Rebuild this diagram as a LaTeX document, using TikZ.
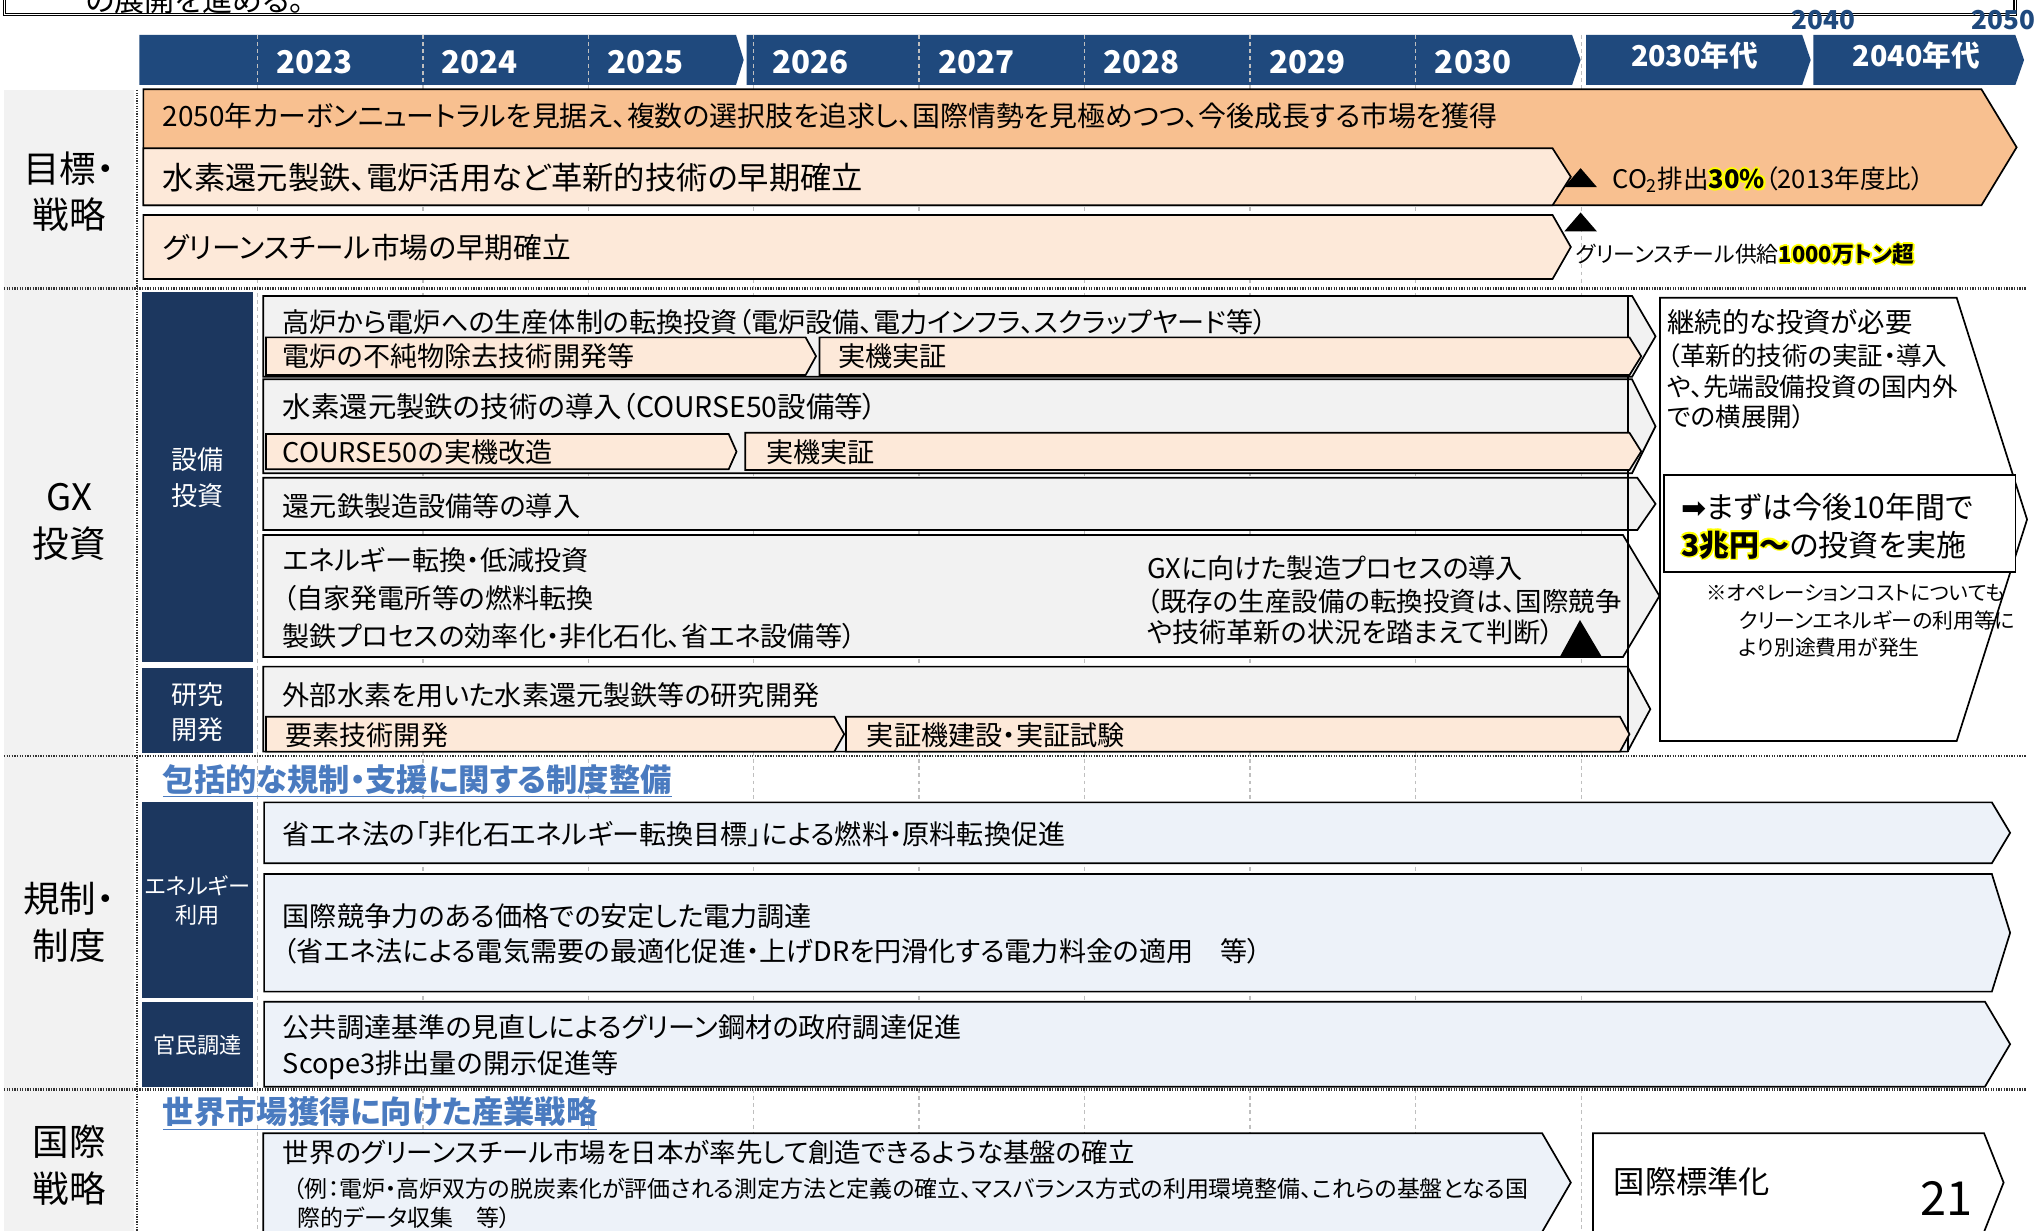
\documentclass[tikz,border=0pt]{standalone}
\usepackage{fontspec}
\setmainfont{Noto Sans CJK JP}[RawFeature=+palt]
\newfontfamily\dejavu{DejaVu Sans}
\usetikzlibrary{calc}
\definecolor{hdr}{HTML}{1F497D}
\definecolor{navy}{HTML}{1C375F}
\definecolor{colgray}{HTML}{F2F2F2}
\definecolor{orng}{HTML}{F8C090}
\definecolor{peach}{HTML}{FDE9D9}
\definecolor{lblue}{HTML}{EDF2F9}
\definecolor{gridc}{HTML}{BFBFBF}
\definecolor{ttlblue}{HTML}{4A7BC0}
\definecolor{glowy}{HTML}{FFFF00}
\newcommand\fz[2]{\fontsize{#1}{#2}\selectfont}
\newcommand\glw[1]{{\leavevmode
 \rlap{\color{glowy}\kern-1.4pt#1}\rlap{\color{glowy}\kern1.4pt#1}%
 \rlap{\color{glowy}\raisebox{1.4pt}{#1}}\rlap{\color{glowy}\raisebox{-1.4pt}{#1}}%
 \rlap{\color{glowy}\kern-1pt\raisebox{1pt}{#1}}\rlap{\color{glowy}\kern1pt\raisebox{1pt}{#1}}%
 \rlap{\color{glowy}\kern-1pt\raisebox{-1pt}{#1}}\rlap{\color{glowy}\kern1pt\raisebox{-1pt}{#1}}%
 {#1}}}
% chevron box: [style]{x1}{ytop}{xcorner}{xtip}{ybot}
\newcommand\chev[6][]{\draw[#1] (#2,#3) -- (#4,#3) -- (#5,{(#3+#6)/2}) -- (#4,#6) -- (#2,#6) -- cycle;}
\begin{document}
\begin{tikzpicture}[x=1pt,y=-1pt,
  every node/.style={inner sep=0pt,outer sep=0pt},
  tl/.style={anchor=west,font=\fz{20.8}{25}},
  tlb/.style={anchor=west,font=\fz{22}{26}},
  yr/.style={text=white,font=\fz{24}{28}\bfseries},
  sect/.style={align=center,font=\fz{28}{36}},
  navylbl/.style={align=center,text=white,font=\fz{20}{27}},
  navysm/.style={align=center,text=white,font=\fz{17}{22}},
  ttl/.style={anchor=west,text=ttlblue,font=\fz{24}{28}\bfseries},
  gbox/.style={draw=black,line width=1.3pt,fill=colgray},
  pbox/.style={draw=black,line width=1.3pt,fill=peach},
  obox/.style={draw=black,line width=1.3pt,fill=orng},
  bbox/.style={draw=black,line width=1.3pt,fill=lblue},
  wbox/.style={draw=black,line width=1.3pt,fill=white},
  gridline/.style={draw=gridc,line width=1.1pt,dash pattern=on 3pt off 2.5pt},
  sepline/.style={draw=black!80,line width=1.8pt,dash pattern=on 1pt off 1pt},
  navyblk/.style={fill=navy}]
\useasboundingbox (0,0) rectangle (1568,944);
\fill[white] (0,0) rectangle (1568,944);
% top box (cut off)
\draw[double,double distance=1.3pt,line width=0.8pt] (3.5,-40) rectangle (1546,11.2);
\node[anchor=base west,font=\fz{23}{27}] (topt) at (66,8.5) {の展開を進める。};
\node[text=hdr,font=\fz{20}{22}\bfseries] (y2040) at (1399,15.5) {2040};
\node[text=hdr,font=\fz{20}{22}\bfseries] (y2050) at (1537,15.5) {2050};
% left gray column
\fill[colgray] (3,69) rectangle (103,944);
% header
\fill[hdr] (107,26.8) -- (564.6,26.8) -- (570.5,46) -- (564.6,65.2) -- (107,65.2) -- cycle;
\fill[hdr] (572.8,26.8) -- (1206,26.8) -- (1212.5,46) -- (1206,65.2) -- (572.8,65.2) -- cycle;
\fill[hdr] (1216.7,26.8) -- (1382.5,26.8) -- (1389,46) -- (1382.5,65.2) -- (1216.7,65.2) -- cycle;
\fill[hdr] (1391,26.8) -- (1546,26.8) -- (1552.7,46) -- (1546,65.2) -- (1391,65.2) -- cycle;
% grid
\foreach \gx in {197.5,324.5,451.5,578,705,832,959,1086,1213}
  \draw[gridline] (\gx,26.8) -- (\gx,944);
\node[yr] (h23) at (241,48) {2023};
\node[yr] (h24) at (368,48) {2024};
\node[yr] (h25) at (495,48) {2025};
\node[yr] (h26) at (622,48) {2026};
\node[yr] (h27) at (749,48) {2027};
\node[yr] (h28) at (876,48) {2028};
\node[yr] (h29) at (1003,48) {2029};
\node[yr] (h30) at (1130,48) {2030};
\node[text=white,font=\fz{22}{26}\bfseries] (h30s) at (1300,43) {2030年代};
\node[text=white,font=\fz{22}{26}\bfseries] (h40s) at (1470,43) {2040年代};
% separators
\draw[sepline] (3,221.2) -- (1555,221.2);
\draw[sepline] (3,579.8) -- (1555,579.8);
\draw[sepline] (3,835.9) -- (1555,835.9);
\draw[sepline,line width=1.5pt] (105,69) -- (105,944);
% section labels
\node[sect] (s1) at (53,147) {目標・\\戦略};
\node[sect] (s2) at (53,400.5) {GX\\投資};
\node[sect] (s3) at (53,707.5) {規制・\\制度};
\node[sect] (s4) at (53,894) {国際\\戦略};
% ===== row 1
\chev[obox]{110}{68.5}{1520}{1547}{157.5}
\chev[pbox]{110}{113.8}{1191}{1205}{157.5}
\chev[pbox]{110}{165}{1191}{1205}{214}
\node[anchor=west,font=\fz{21.4}{26}] (r1a) at (125,89) {2050年カーボンニュートラルを見据え、複数の選択肢を追求し、国際情勢を見極めつつ、今後成長する市場を獲得};
\node[anchor=west,font=\fz{24}{28}] (r1b) at (125,136) {水素還元製鉄、電炉活用など革新的技術の早期確立};
\node[tlb] (r1c) at (125,190) {グリーンスチール市場の早期確立};
\fill (1212.5,129) -- (1225,143.5) -- (1200,143.5) -- cycle;
\fill (1212.5,163) -- (1225,177.5) -- (1200,177.5) -- cycle;
\node[anchor=west,font=\fz{19.6}{22}] (co2) at (1237,138) {CO\textsubscript{2}排出\glw{\bfseries 30\%}（2013年度比）};
\node[anchor=west,font=\fz{16.8}{20}] (gss) at (1209,195) {グリーンスチール供給\glw{\bfseries 1000万トン超}};
% ===== row 2
\fill[navyblk] (109,223.7) rectangle (194,507.6);
\fill[navyblk] (109,512.6) rectangle (194,577.6);
\node[navylbl] (nb1) at (151.5,366.5) {設備\\投資};
\node[navylbl] (nb2) at (151.5,546.5) {研究\\開発};
\chev[gbox]{202}{227}{1252}{1270}{289}
\chev[gbox]{202}{291}{1252}{1270}{363}
\chev[gbox]{202}{366.5}{1256}{1270}{406.6}
\chev[gbox]{202}{410.4}{1245}{1273}{504}
\chev[gbox]{202}{511.4}{1248.5}{1266}{576.6}
\draw[line width=1.3pt] (1249,227) -- (1249,577);
\chev[pbox]{204}{258.8}{618}{626}{287.7}
\chev[pbox]{628.6}{258.8}{1250}{1259}{287.7}
\chev[pbox]{204}{333}{559}{565}{360}
\chev[pbox]{571.7}{332}{1250}{1259}{360.6}
\chev[pbox]{204}{549.8}{640}{647.6}{576.6}
\chev[pbox]{649}{549.8}{1242.7}{1250}{576.6}
\node[tl] (ga) at (217,247) {高炉から電炉への生産体制の転換投資（電炉設備、電力インフラ、スクラップヤード等）};
\node[tl] (ga1) at (217,273) {電炉の不純物除去技術開発等};
\node[tl] (ga2) at (643,273) {実機実証};
\node[anchor=west,font=\fz{21.8}{25}] (gb) at (217,312) {水素還元製鉄の技術の導入（COURSE50設備等）};
\node[tl] (gb1) at (217,347) {COURSE50の実機改造};
\node[tl] (gb2) at (588,347) {実機実証};
\node[tl] (gc) at (217,388) {還元鉄製造設備等の導入};
\node[tl] (gd1) at (217,430) {エネルギー転換・低減投資};
\node[tl] (gd2) at (217,459) {（自家発電所等の燃料転換};
\node[tl] (gd3) at (217,488) {製鉄プロセスの効率化・非化石化、省エネ設備等）};
\node[tl] (gd4) at (880,436) {GXに向けた製造プロセスの導入};
\node[anchor=west,font=\fz{20.3}{25}] (gd5) at (880,461) {（既存の生産設備の転換投資は、国際競争};
\node[tl] (gd6) at (880,485) {や技術革新の状況を踏まえて判断）};
\fill (1212,475.6) -- (1228.7,503.7) -- (1196.7,503.7) -- cycle;
\node[tl] (ge) at (217,533) {外部水素を用いた水素還元製鉄等の研究開発};
\node[tl] (ge1) at (219,564) {要素技術開発};
\node[tl] (ge2) at (665,564) {実証機建設・実証試験};
% right box
\draw[wbox] (1273.4,228.4) -- (1501,228.4) -- (1555,398.5) -- (1501,568.5) -- (1273.4,568.5) -- cycle;
\node[anchor=west,font=\fz{21}{25}] (rb1) at (1279,247) {継続的な投資が必要};
\node[anchor=west,font=\fz{19.6}{22}] (rb2) at (1279,273) {（革新的技術の実証・導入};
\node[anchor=west,font=\fz{19.6}{22}] (rb3) at (1279,297) {や、先端設備投資の国内外};
\node[anchor=west,font=\fz{19.6}{22}] (rb4) at (1279,320) {での横展開）};
\draw[wbox] (1276.5,364.4) rectangle (1546,438.8);
\node[anchor=west,font=\fz{23}{27}] (rb5) at (1290,389) {{\dejavu ➡}まずは今後10年間で};
\node[anchor=west,font=\fz{23}{27}] (rb6) at (1290,418) {\glw{\bfseries 3兆円〜}の投資を実施};
\node[anchor=west,font=\fz{15.7}{20}] (rb7) at (1309,455) {※オペレーションコストについても};
\node[anchor=west,font=\fz{16}{20}] (rb8) at (1334,476) {クリーンエネルギーの利用等に};
\node[anchor=west,font=\fz{16}{20}] (rb9) at (1334,497) {より別途費用が発生};
% ===== row 3
\node[ttl] (t3) at (125,599) {\underline{包括的な規制・支援に関する制度整備}};
\fill[navyblk] (109,615.5) rectangle (194,765.7);
\fill[navyblk] (109,768.8) rectangle (194,833.6);
\node[navysm] (nb3) at (151.5,691) {エネルギー\\利用};
\node[navysm] (nb4) at (151.5,802) {官民調達};
\chev[bbox]{202.6}{615.5}{1528}{1542}{662.2}
\chev[bbox]{202.6}{670.5}{1528}{1542}{760.7}
\chev[bbox]{202.6}{768.4}{1522.7}{1542}{833.6}
\node[tl] (bf) at (217,640) {省エネ法の「非化石エネルギー転換目標」による燃料・原料転換促進};
\node[tl] (bg1) at (217,703) {国際競争力のある価格での安定した電力調達};
\node[tl] (bg2) at (217,730) {（省エネ法による電気需要の最適化促進・上げDRを円滑化する電力料金の適用　等）};
\node[tl] (bh1) at (217,788) {公共調達基準の見直しによるグリーン鋼材の政府調達促進};
\node[tl] (bh2) at (217,817) {Scope3排出量の開示促進等};
% ===== row 4
\node[ttl] (t4) at (125,854) {\underline{世界市場獲得に向けた産業戦略}};
\chev[bbox]{202}{869.3}{1183}{1205}{945}
\chev[wbox]{1222}{869.3}{1522}{1537}{945}
\node[anchor=west,font=\fz{20.3}{25}] (bi1) at (217,884) {世界のグリーンスチール市場を日本が率先して創造できるような基盤の確立};
\node[anchor=west,font=\fz{17.6}{20}] (bi2) at (225,912) {（例：電炉・高炉双方の脱炭素化が評価される測定方法と定義の確立、マスバランス方式の利用環境整備、これらの基盤となる国};
\node[anchor=west,font=\fz{17.6}{20}] (bi3) at (228,934) {際的データ収集　等）};
\node[anchor=west,font=\fz{24}{28}] (bj) at (1238,906) {国際標準化};
\node[font=\fz{36}{40}] (pg) at (1493,919) {21};
\end{tikzpicture}
\end{document}
